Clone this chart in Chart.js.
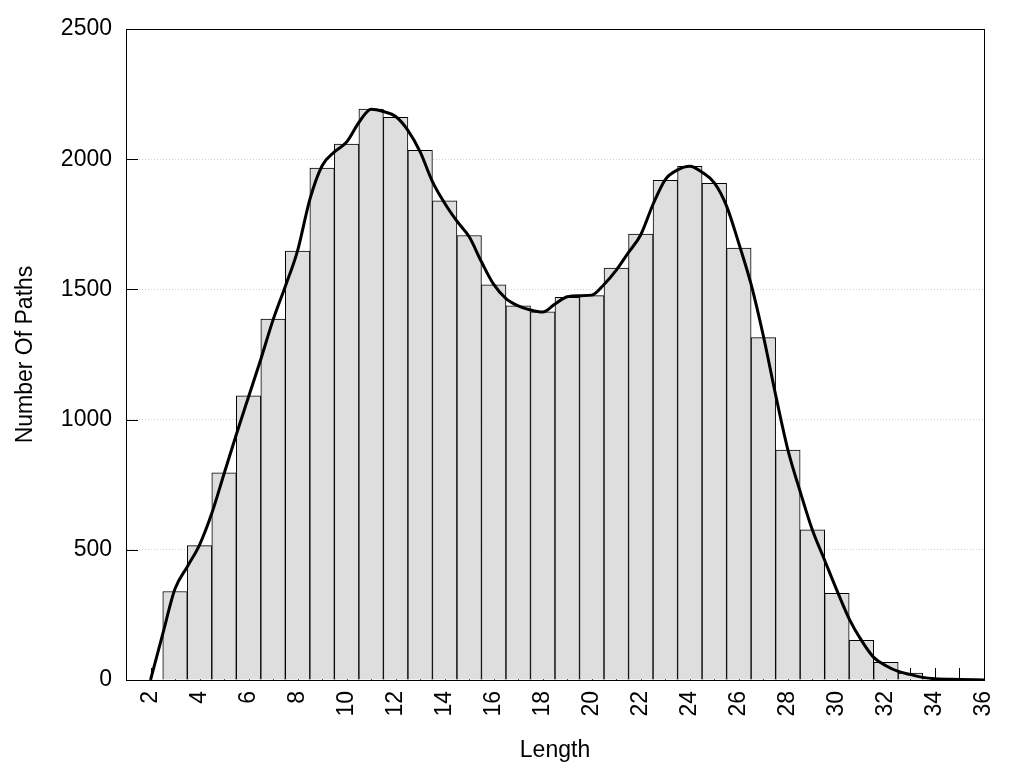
<!DOCTYPE html>
<html>
<head>
<meta charset="utf-8">
<script src="https://cdn.jsdelivr.net/npm/chart.js@4/dist/chart.umd.min.js"></script>
<style>
  html, body { margin: 0; padding: 0; background: #fff; }
  #wrap { width: 1024px; height: 768px; }
</style>
</head>
<body>
<div id="wrap"><canvas id="myChart" width="1024" height="768"></canvas></div>
<script>
'use strict';
// histogram bins (path length) and counts
const lengths = [3, 4, 5, 6, 7, 8, 9, 10, 11, 12, 13, 14, 15, 16, 17, 18, 19,
  20, 21, 22, 23, 24, 25, 26, 27, 28, 29, 30, 31, 32, 33, 34, 35];
const pathCounts = [340, 516, 796, 1091, 1386, 1647, 1966, 2058, 2192, 2161, 2034, 1840, 1707, 1518, 1437, 1414, 1470,
  1476, 1582, 1712, 1919, 1973, 1907, 1659, 1315, 883, 577, 333, 152, 68, 27, 6, 2];

// smoothed density curve
const curveX = [2, 2.5, 3, 3.5, 4, 4.5, 5, 5.5, 6, 6.5, 7, 7.5, 8, 8.5, 9, 9.5, 10, 10.5, 11, 11.5,
  12, 12.5, 13, 13.5, 14, 14.5, 15, 15.5, 16, 16.5, 17, 17.5, 18, 18.5, 19, 19.5, 20, 20.5, 21, 21.5,
  22, 22.5, 23, 23.5, 24, 24.5, 25, 25.5, 26, 26.5, 27, 27.5, 28, 28.5, 29, 29.5, 30, 30.5, 31, 31.5,
  32, 32.5, 33, 33.5, 34, 35, 36];
const curveY = [0, 177, 350, 435, 519, 640, 792, 943, 1088, 1232, 1383, 1512, 1649, 1846, 1975, 2028, 2066, 2141, 2192, 2183,
  2164, 2111, 2028, 1914, 1831, 1762, 1702, 1606, 1519, 1465, 1437, 1421, 1413, 1444, 1472, 1476, 1478, 1519, 1574, 1642,
  1710, 1827, 1922, 1959, 1973, 1950, 1909, 1820, 1676, 1519, 1321, 1095, 884, 724, 576, 460, 344, 235, 152, 87,
  55, 33, 21, 10, 5, 2, 0];

const yTicks = [0, 500, 1000, 1500, 2000, 2500];

/////////////////////////////////////////////

const barData = lengths.map((x, i) => ({x: x, y: pathCounts[i]}));
const curveData = curveX.map((x, i) => ({x: x, y: curveY[i]}));

// inner tick marks (behind the bars) and the closed frame
const frame = {
  id: 'frame',
  beforeDatasetsDraw(chart) {
    const ctx = chart.ctx;
    const a = chart.chartArea;
    const xs = chart.scales.x;
    const ys = chart.scales.y;
    ctx.save();
    ctx.strokeStyle = '#000';
    ctx.lineWidth = 1;
    ctx.beginPath();
    xs.ticks.forEach(t => {
      const px = Math.round(xs.getPixelForValue(t.value)) + 0.5;
      ctx.moveTo(px, a.bottom);
      ctx.lineTo(px, a.bottom - 12);
    });
    yTicks.forEach(v => {
      const py = Math.round(ys.getPixelForValue(v)) + 0.5;
      ctx.moveTo(a.left, py);
      ctx.lineTo(a.left + 12, py);
    });
    ctx.stroke();
    ctx.restore();
  },
  afterDraw(chart) {
    const ctx = chart.ctx;
    const a = chart.chartArea;
    ctx.save();
    ctx.strokeStyle = '#000';
    ctx.lineWidth = 1;
    ctx.strokeRect(Math.round(a.left) + 0.5, Math.round(a.top) + 0.5,
      Math.round(a.right - a.left), Math.round(a.bottom - a.top));
    ctx.restore();
  }
};

const font = {family: 'Arial, "Liberation Sans", sans-serif', size: 23};

let chart = new Chart(document.getElementById('myChart').getContext('2d'), {
  data: {
    datasets: [
      {
        type: 'line',
        label: 'density',
        data: curveData,
        borderColor: '#000',
        borderWidth: 3,
        pointRadius: 0,
        fill: false,
        cubicInterpolationMode: 'monotone',
        order: 0
      },
      {
        type: 'bar',
        label: 'paths',
        data: barData,
        backgroundColor: '#dedede',
        borderColor: '#000',
        borderWidth: 1,
        barPercentage: 1,
        categoryPercentage: 1,
        order: 1
      }
    ]
  },
  options: {
    responsive: false,
    animation: false,
    layout: {padding: {left: 0, right: 40, top: 29, bottom: 0}},
    plugins: {legend: {display: false}, tooltip: {enabled: false}},
    scales: {
      x: {
        type: 'linear',
        min: 1,
        max: 36,
        offset: false,
        afterFit(scale) { scale.height = 88; },
        ticks: {
          stepSize: 1,
          autoSkip: false,
          maxRotation: 90,
          minRotation: 90,
          padding: 11,
          color: '#000',
          font: font,
          callback: v => (v % 2 === 0 && v >= 2) ? String(v) : ''
        },
        grid: {display: false, drawTicks: false, offset: false},
        border: {display: true, color: '#000'},
        title: {display: true, text: 'Length', color: '#000', font: font, padding: {top: 0, bottom: 4}}
      },
      y: {
        min: 0,
        max: 2500,
        afterFit(scale) { scale.width = 126; },
        ticks: {stepSize: 500, padding: 14, color: '#000', font: font, callback: v => String(v)},
        grid: {
          drawTicks: false,
          color: c => (c.tick.value === 0 || c.tick.value === 2500) ? 'rgba(0,0,0,0)' : '#cfcfcf',
          lineWidth: 1
        },
        border: {display: true, color: '#000', dash: [1, 2]},
        title: {display: true, text: 'Number Of Paths', color: '#000', font: font, padding: {top: 12, bottom: 0}}
      }
    }
  },
  plugins: [frame]
});
</script>
</body>
</html>
